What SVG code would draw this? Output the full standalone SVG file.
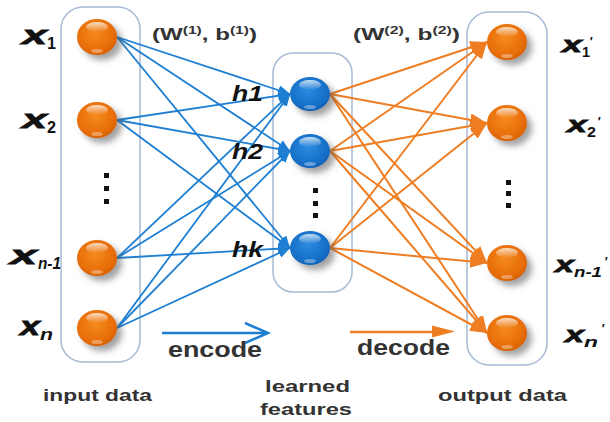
<svg xmlns="http://www.w3.org/2000/svg" width="610" height="422" viewBox="0 0 610 422">
<style>
.box{fill:none;stroke:#A8BBD6;stroke-width:1.5}
.bl{stroke:#1E7FD2;stroke-width:1.8;fill:none;marker-end:url(#ab)}
.or{stroke:#EF7D22;stroke-width:2;fill:none;marker-end:url(#ao)}
.lab{font-family:"Liberation Sans",Arial,sans-serif;font-weight:bold;font-style:italic;fill:#111}
.xx{stroke:#111;stroke-width:0.8}
.sub{font-family:"Liberation Sans",Arial,sans-serif;font-weight:bold;fill:#111}
.txt{font-family:"Liberation Sans",Arial,sans-serif;font-weight:bold;fill:#333}
.dot{fill:#111}
</style>
<defs>
<radialGradient id="go" cx="0.45" cy="0.4" r="0.65">
<stop offset="0" stop-color="#F58A1F"/><stop offset="0.7" stop-color="#E86E08"/><stop offset="1" stop-color="#D25E00"/>
</radialGradient>
<radialGradient id="gb" cx="0.45" cy="0.4" r="0.65">
<stop offset="0" stop-color="#2C8BE0"/><stop offset="0.7" stop-color="#1670C8"/><stop offset="1" stop-color="#0D5EB0"/>
</radialGradient>
<linearGradient id="hl" x1="0" y1="0" x2="0" y2="1">
<stop offset="0" stop-color="#fff" stop-opacity="0.75"/><stop offset="1" stop-color="#fff" stop-opacity="0"/>
</linearGradient>
<filter id="sh" x="-50%" y="-50%" width="200%" height="200%">
<feDropShadow dx="5" dy="5" stdDeviation="3" flood-color="#555" flood-opacity="0.55"/>
</filter>
<marker id="ab" markerUnits="userSpaceOnUse" markerWidth="13" markerHeight="10" refX="12" refY="5" orient="auto">
<path d="M0,0 L12,5 L0,10 z" fill="#1E7FD2"/>
</marker>
<marker id="ao" markerUnits="userSpaceOnUse" markerWidth="18" markerHeight="13" refX="17" refY="6.5" orient="auto">
<path d="M0,0 L17,6.5 L0,13 z" fill="#EF7D22"/>
</marker>
<g id="on">
<ellipse cx="0" cy="0" rx="20" ry="18" fill="url(#go)" filter="url(#sh)"/>
<ellipse cx="0" cy="-10" rx="11" ry="5" fill="url(#hl)"/>
<ellipse cx="0" cy="14" rx="6" ry="2" fill="#fff" opacity="0.35"/>
</g>
<g id="bn">
<ellipse cx="0" cy="0" rx="20" ry="17" fill="url(#gb)" filter="url(#sh)"/>
<ellipse cx="0" cy="-9" rx="11" ry="5" fill="url(#hl)"/>
<ellipse cx="0" cy="13" rx="6" ry="2" fill="#fff" opacity="0.35"/>
</g>
</defs>
<rect width="610" height="422" fill="#fff"/>

<g id="containers">
<rect class="box" x="61" y="7" width="79" height="355" rx="22"/>
<rect class="box" x="273" y="53" width="79" height="239" rx="20"/>
<rect class="box" x="467" y="12" width="80" height="353" rx="22"/>
</g>

<g id="connectors">
<path class="bl" d="M117,37 L290,94"/>
<path class="bl" d="M117,37 L290,151"/>
<path class="bl" d="M117,37 L290,248"/>
<path class="bl" d="M117,120 L290,94"/>
<path class="bl" d="M117,120 L290,151"/>
<path class="bl" d="M117,120 L290,248"/>
<path class="bl" d="M117,258 L290,94"/>
<path class="bl" d="M117,258 L290,151"/>
<path class="bl" d="M117,258 L290,248"/>
<path class="bl" d="M117,328 L290,94"/>
<path class="bl" d="M117,328 L290,151"/>
<path class="bl" d="M117,328 L290,248"/>
<path class="or" d="M330,94 L487,42"/>
<path class="or" d="M330,94 L487,123"/>
<path class="or" d="M330,94 L487,263"/>
<path class="or" d="M330,94 L487,333"/>
<path class="or" d="M330,151 L487,42"/>
<path class="or" d="M330,151 L487,123"/>
<path class="or" d="M330,151 L487,263"/>
<path class="or" d="M330,151 L487,333"/>
<path class="or" d="M330,248 L487,42"/>
<path class="or" d="M330,248 L487,123"/>
<path class="or" d="M330,248 L487,263"/>
<path class="or" d="M330,248 L487,333"/>
<path d="M162,333 L267,333 M245,323 L268,333 L245,343" fill="none" stroke="#1E7FD2" stroke-width="2.5" stroke-linejoin="miter"/>
<path d="M350,332 L436,332" stroke="#EF7D22" stroke-width="2.5"/>
<path d="M432,325.5 L455,331.5 L432,337.5 z" fill="#EF7D22"/>
</g>

<g id="input-nodes">
<g id="x1"><use href="#on" x="97" y="37"/></g>
<g id="x2"><use href="#on" x="97" y="120"/></g>
<g id="xn1"><use href="#on" x="97" y="258"/></g>
<g id="xn"><use href="#on" x="97" y="328"/></g>
<rect class="dot" x="104" y="173" width="5" height="5"/>
<rect class="dot" x="104" y="186" width="5" height="5"/>
<rect class="dot" x="104" y="199" width="5" height="5"/>
</g>

<g id="hidden-nodes">
<g id="h1"><use href="#bn" x="310" y="94"/></g>
<g id="h2"><use href="#bn" x="310" y="151"/></g>
<g id="hk"><use href="#bn" x="310" y="248"/></g>
<rect class="dot" x="313" y="188" width="5" height="5"/>
<rect class="dot" x="313" y="201" width="5" height="5"/>
<rect class="dot" x="313" y="213" width="5" height="5"/>
</g>

<g id="output-nodes">
<g id="y1"><use href="#on" x="507" y="42"/></g>
<g id="y2"><use href="#on" x="507" y="123"/></g>
<g id="yn1"><use href="#on" x="507" y="263"/></g>
<g id="yn"><use href="#on" x="507" y="333"/></g>
<rect class="dot" x="506" y="180" width="5" height="5"/>
<rect class="dot" x="506" y="191" width="5" height="5"/>
<rect class="dot" x="506" y="203" width="5" height="5"/>
</g>

<g id="labels">
<text class="lab xx" x="22" y="44" font-size="25" textLength="25" lengthAdjust="spacingAndGlyphs">x</text>
<text class="sub" x="47" y="49" font-size="16" textLength="9" lengthAdjust="spacingAndGlyphs">1</text>
<text class="lab xx" x="22" y="128" font-size="25" textLength="25" lengthAdjust="spacingAndGlyphs">x</text>
<text class="sub" x="47" y="133" font-size="16" textLength="9" lengthAdjust="spacingAndGlyphs">2</text>
<text class="lab xx" x="10" y="264" font-size="25" textLength="27" lengthAdjust="spacingAndGlyphs">x</text>
<text class="lab" x="38" y="269" font-size="16" textLength="23" lengthAdjust="spacingAndGlyphs">n-1</text>
<text class="lab xx" x="20" y="335" font-size="25" textLength="20" lengthAdjust="spacingAndGlyphs">x</text>
<text class="lab" x="40" y="340" font-size="16" textLength="13" lengthAdjust="spacingAndGlyphs">n</text>

<text class="lab xx" x="562" y="52" font-size="22" textLength="20" lengthAdjust="spacingAndGlyphs">x</text>
<text class="sub" x="582" y="57" font-size="15" textLength="8" lengthAdjust="spacingAndGlyphs">1</text>
<text class="lab" x="589" y="46" font-size="13">'</text>
<text class="lab xx" x="567" y="132" font-size="22" textLength="20" lengthAdjust="spacingAndGlyphs">x</text>
<text class="sub" x="587" y="137" font-size="15" textLength="9" lengthAdjust="spacingAndGlyphs">2</text>
<text class="lab" x="597" y="126" font-size="13">'</text>
<text class="lab xx" x="555" y="272" font-size="22" textLength="19" lengthAdjust="spacingAndGlyphs">x</text>
<text class="lab" x="574" y="277" font-size="15" textLength="28" lengthAdjust="spacingAndGlyphs">n-1</text>
<text class="lab" x="604" y="266" font-size="13">'</text>
<text class="lab xx" x="565" y="342" font-size="22" textLength="19" lengthAdjust="spacingAndGlyphs">x</text>
<text class="lab" x="584" y="347" font-size="15" textLength="14" lengthAdjust="spacingAndGlyphs">n</text>
<text class="lab" x="601" y="333" font-size="13">'</text>

<text class="lab" x="232" y="101" font-size="22" textLength="31" lengthAdjust="spacingAndGlyphs">h1</text>
<text class="lab" x="232" y="159" font-size="22" textLength="31" lengthAdjust="spacingAndGlyphs">h2</text>
<text class="lab" x="232" y="257" font-size="22" textLength="31" lengthAdjust="spacingAndGlyphs">hk</text>

<text class="txt" x="152" y="40" font-size="17" fill="#222" textLength="105" lengthAdjust="spacingAndGlyphs">(W<tspan font-size="11" dy="-6">(1)</tspan><tspan dy="6">, b</tspan><tspan font-size="11" dy="-6">(1)</tspan><tspan dy="6">)</tspan></text>
<text class="txt" x="353" y="40" font-size="17" fill="#222" textLength="107" lengthAdjust="spacingAndGlyphs">(W<tspan font-size="11" dy="-6">(2)</tspan><tspan dy="6">, b</tspan><tspan font-size="11" dy="-6">(2)</tspan><tspan dy="6">)</tspan></text>

<text class="txt" x="168" y="357" font-size="22" textLength="94" lengthAdjust="spacingAndGlyphs">encode</text>
<text class="txt" x="357" y="355" font-size="22" textLength="93" lengthAdjust="spacingAndGlyphs">decode</text>
<text class="txt" x="43" y="401" font-size="17" textLength="109" lengthAdjust="spacingAndGlyphs">input data</text>
<text class="txt" x="265" y="392" font-size="17" textLength="85" lengthAdjust="spacingAndGlyphs">learned</text>
<text class="txt" x="260" y="415" font-size="17" textLength="92" lengthAdjust="spacingAndGlyphs">features</text>
<text class="txt" x="438" y="401" font-size="17" textLength="129" lengthAdjust="spacingAndGlyphs">output data</text>
</g>
</svg>
